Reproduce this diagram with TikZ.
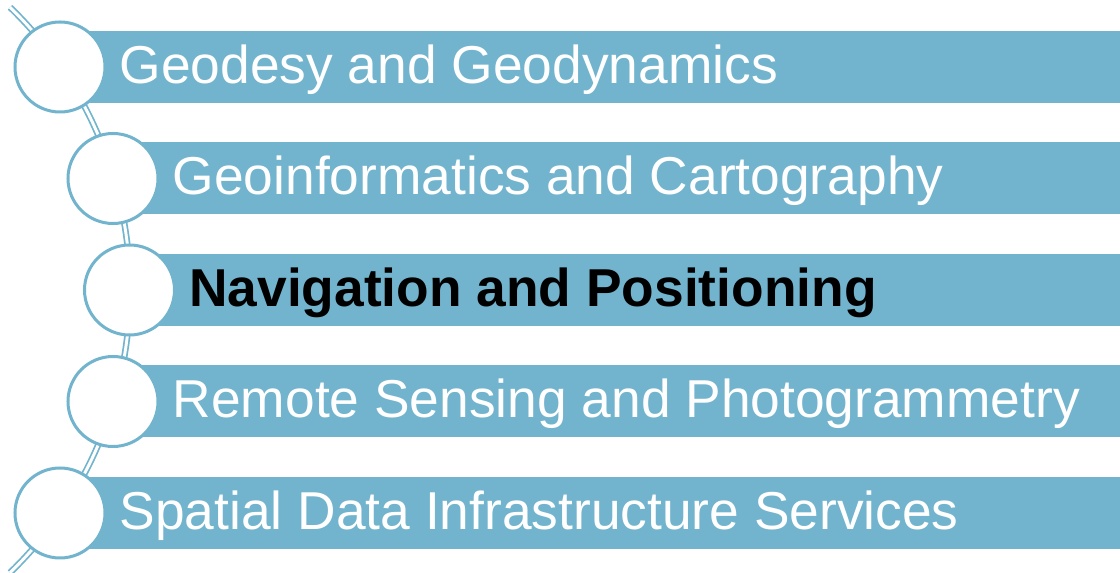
\documentclass[tikz,border=0pt]{standalone}
\usepackage{fontspec}
\setmainfont{Liberation Sans}
\usetikzlibrary{positioning}

\definecolor{barblue}{RGB}{114,180,205}

\begin{document}
\begin{tikzpicture}[
    x=0.75pt, y=0.75pt,
    node distance=9.75pt,
    bar/.style={
        rectangle,
        fill=barblue,
        anchor=west,
        inner sep=0pt,
        minimum height=54pt
    },
    ring/.style={
        circle,
        draw=barblue,
        line width=2.25pt,
        fill=white,
        inner sep=0pt,
        minimum size=67.5pt
    },
    spine/.style={
        draw=barblue,
        line width=1.3pt,
        double=white,
        double distance=2.2pt
    },
    label/.style={
        inner sep=0pt,
        text=white,
        font=\fontsize{40}{48}\selectfont,
        text height=28.6pt,
        text depth=4.2pt
    },
    hilite/.style={label, text=black, font=\fontsize{40}{48}\selectfont\bfseries}
]
\useasboundingbox (0,0) rectangle (1120,573);

% centres of the rings, on one big arc
\coordinate (hub) at (-263,283);
\coordinate (p1) at (60,506);
\coordinate (p2) at (113,394.5);
\coordinate (p3) at (129.5,283);
\coordinate (p4) at (113,171.5);
\coordinate (p5) at (60,60);

% the spine behind everything
\draw[spine] (hub) ++(46:393) arc[start angle=46, end angle=-46, radius=393];

% bars
\node[bar, minimum width=795pt] (bar1) at (p1) {};
\node[bar, minimum width=755.25pt] (bar2) at (p2) {};
\node[bar, minimum width=742.9pt] (bar3) at (p3) {};
\node[bar, minimum width=755.25pt] (bar4) at (p4) {};
\node[bar, minimum width=795pt] (bar5) at (p5) {};

% rings
\node[ring] (c1) at (p1) {};
\node[ring] (c2) at (p2) {};
\node[ring] (c3) at (p3) {};
\node[ring] (c4) at (p4) {};
\node[ring] (c5) at (p5) {};

% texts
\node[label, right=of c1] (t1) {Geodesy and Geodynamics};
\node[label, right=of c2] (t2) {Geoinformatics and Cartography};
\node[hilite, right=of c3] (t3) {Navigation and Positioning};
\node[label, right=of c4] (t4) {Remote Sensing and Photogrammetry};
\node[label, right=of c5] (t5) {Spatial Data Infrastructure Services};

\end{tikzpicture}
\end{document}
